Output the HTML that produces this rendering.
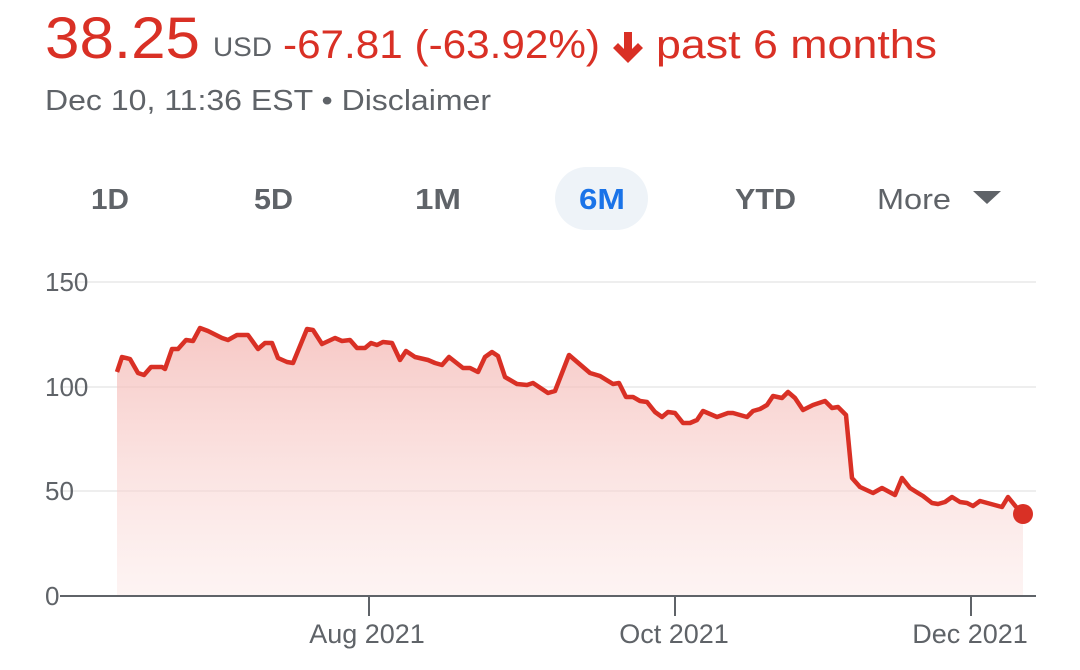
<!DOCTYPE html>
<html><head><meta charset="utf-8"><style>
body{margin:0;width:1080px;height:670px;background:#fff;font-family:"Liberation Sans",Arial,sans-serif;overflow:hidden;position:relative}
.a{position:absolute;white-space:nowrap}
</style></head><body>
<div class="a" style="left:555px;top:167px;width:93px;height:63px;border-radius:32px;background:#eef3f8"></div>
<svg class="a" style="left:0;top:0" width="1080" height="670">
<defs><linearGradient id="g" x1="0" y1="0" x2="0" y2="1"><stop offset="0" stop-color="#f4b6b2" stop-opacity=".75"/><stop offset="1" stop-color="#fbe3e1" stop-opacity=".4"/></linearGradient></defs>
<g fill="#d93025">
<text x="45" y="58" font-size="58" textLength="155" lengthAdjust="spacingAndGlyphs">38.25</text>
<text x="283" y="58" font-size="40" textLength="317" lengthAdjust="spacingAndGlyphs">-67.81 (-63.92%)</text>
<text x="656" y="58" font-size="40" textLength="281" lengthAdjust="spacingAndGlyphs">past 6 months</text>
<path d="M624,32 h8 v17 l6,-6 5,5 -15,15 -15,-15 5,-5 6,6z"/>
</g>
<text x="213" y="56" font-size="27" fill="#5f6368" textLength="59" lengthAdjust="spacingAndGlyphs">USD</text>
<text x="45" y="110" font-size="29" fill="#5f6368" textLength="446" lengthAdjust="spacingAndGlyphs">Dec 10, 11:36 EST • Disclaimer</text>
<g font-size="29" fill="#5f6368" font-weight="bold">
<text x="91" y="209" textLength="38" lengthAdjust="spacingAndGlyphs">1D</text>
<text x="254" y="209" textLength="39" lengthAdjust="spacingAndGlyphs">5D</text>
<text x="415" y="209" textLength="46" lengthAdjust="spacingAndGlyphs">1M</text>
<text x="579" y="209" fill="#1a73e8" textLength="46" lengthAdjust="spacingAndGlyphs">6M</text>
<text x="735" y="209" textLength="61" lengthAdjust="spacingAndGlyphs">YTD</text>
<text x="877" y="209" font-weight="normal" textLength="74" lengthAdjust="spacingAndGlyphs">More</text>
</g>
<polygon points="973,191 1001,191 987,204" fill="#5f6368"/>
<g stroke="#eeeeee" stroke-width="2"><line x1="60" y1="282" x2="1036" y2="282"/><line x1="60" y1="387" x2="1036" y2="387"/><line x1="60" y1="491" x2="1036" y2="491"/></g>
<g font-size="26" fill="#5f6368"><text x="45" y="291">150</text><text x="45" y="396">100</text><text x="45" y="500">50</text><text x="45" y="605">0</text></g>
<path d="M117,372 L122,357 130,359 138,373 144,375 151,367 162,367 165,369 172,349 178,349 186,340 193,341 200,328 208,331 222,338 228,340 237,335 248,335 258,349 265,343 272,343 278,358 287,362 293,363 307,329 313,330 322,344 335,338 342,341 350,340 357,348 365,348 371,343 377,345 383,342 392,343 400,360 406,351 415,357 428,360 435,363 442,365 449,357 463,368 470,368 478,372 485,357 492,352 498,356 505,377 517,384 527,385 533,383 548,393 555,391 569,355 590,373 600,376 613,384 619,383 626,397 633,397 640,401 647,402 655,412 662,417 668,412 675,413 683,423 690,423 697,420 703,411 717,417 728,413 733,413 747,417 753,411 760,409 767,405 773,396 782,398 788,392 795,398 803,410 813,405 825,401 832,408 838,407 846,415 852,478 860,487 873,493 882,488 895,495 902,478 910,488 918,493 923,496 932,503 938,504 945,502 952,497 960,502 967,503 973,506 980,501 1002,507 1008,497 1017,508 1023,514 L1023,596 117,596Z" fill="url(#g)"/>
<path d="M117,372 L122,357 130,359 138,373 144,375 151,367 162,367 165,369 172,349 178,349 186,340 193,341 200,328 208,331 222,338 228,340 237,335 248,335 258,349 265,343 272,343 278,358 287,362 293,363 307,329 313,330 322,344 335,338 342,341 350,340 357,348 365,348 371,343 377,345 383,342 392,343 400,360 406,351 415,357 428,360 435,363 442,365 449,357 463,368 470,368 478,372 485,357 492,352 498,356 505,377 517,384 527,385 533,383 548,393 555,391 569,355 590,373 600,376 613,384 619,383 626,397 633,397 640,401 647,402 655,412 662,417 668,412 675,413 683,423 690,423 697,420 703,411 717,417 728,413 733,413 747,417 753,411 760,409 767,405 773,396 782,398 788,392 795,398 803,410 813,405 825,401 832,408 838,407 846,415 852,478 860,487 873,493 882,488 895,495 902,478 910,488 918,493 923,496 932,503 938,504 945,502 952,497 960,502 967,503 973,506 980,501 1002,507 1008,497 1017,508 1023,514" fill="none" stroke="#d93025" stroke-width="4.5" stroke-linejoin="round"/>
<circle cx="1023" cy="514" r="10" fill="#d93025"/>
<g stroke="#5f6368" stroke-width="2"><line x1="60" y1="596" x2="1036" y2="596"/><line x1="369" y1="596" x2="369" y2="616"/><line x1="675" y1="596" x2="675" y2="616"/><line x1="971" y1="596" x2="971" y2="616"/></g>
<g font-size="27" fill="#5f6368" text-anchor="middle"><text x="367" y="643">Aug 2021</text><text x="674" y="643">Oct 2021</text><text x="970" y="643">Dec 2021</text></g>
</svg>
</body></html>
